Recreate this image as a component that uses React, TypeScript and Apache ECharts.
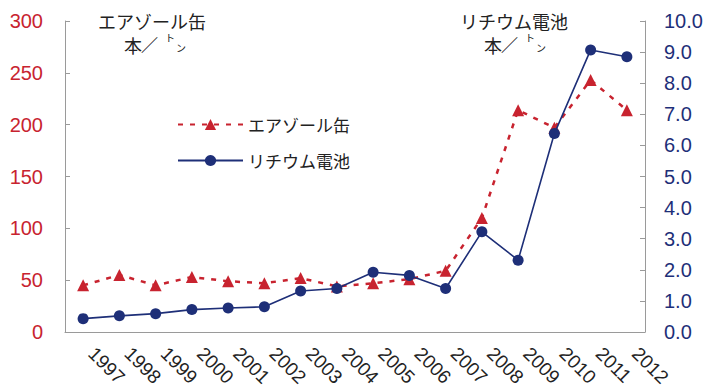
import React, { useEffect, useRef } from "react";
import * as echarts from "echarts";

// 年度
const years = [
  "1997", "1998", "1999", "2000", "2001", "2002", "2003", "2004",
  "2005", "2006", "2007", "2008", "2009", "2010", "2011", "2012",
];
// エアゾール缶（本／トン）— 左軸
const aerosol = [45, 55, 45, 53, 49, 47, 52, 44, 47, 51, 59, 110, 214, 197, 243, 214];
// リチウム電池（本／トン）— 右軸
const lithium = [0.43, 0.52, 0.59, 0.72, 0.77, 0.81, 1.32, 1.4, 1.92, 1.82, 1.4, 3.22, 2.31, 6.38, 9.07, 8.85];

const leftTicks = { min: 0, max: 300, interval: 50 };
const rightTicks = { min: 0, max: 10, interval: 1 };

const RED = "#c8232f";
const NAVY = "#1e2f78";
const AXIS_GRAY = "#9a9a9a";
const LATIN = "'Liberation Sans', Arial, sans-serif";
const CJK = "'Noto Sans CJK JP', sans-serif";

function unitLabel(x: number, y: number) {
  // 「本／トン」: 小さな「トン」を斜線の右に添える
  return [
    { type: "text", left: x, top: y, style: { text: "本", font: `18px ${CJK}`, fill: "#222" } },
    { type: "text", left: x + 17, top: y, style: { text: "／", font: `bold 17px ${CJK}`, fill: "#222" } },
    { type: "text", left: x + 41, top: y - 4, style: { text: "ト", font: `10px ${CJK}`, fill: "#222" } },
    { type: "text", left: x + 52, top: y + 6, style: { text: "ン", font: `10px ${CJK}`, fill: "#222" } },
  ];
}

export default function App() {
  const ref = useRef<HTMLDivElement>(null);

  useEffect(() => {
    if (!ref.current) return;
    const chart = echarts.init(ref.current, undefined, { renderer: "svg" });
    chart.setOption({
      animation: false,
      backgroundColor: "#ffffff",
      grid: {
        left: 65,
        right: 60,
        top: 21,
        bottom: 55,
        containLabel: false,
        outerBoundsMode: "none",
      },
      legend: {
        orient: "vertical",
        left: 172,
        top: 111,
        itemWidth: 65,
        itemHeight: 14,
        itemGap: 19,
        textStyle: { fontFamily: CJK, fontSize: 17, color: "#222" },
        data: ["エアゾール缶", "リチウム電池"],
      },
      xAxis: {
        type: "category",
        data: years,
        boundaryGap: true,
        axisLine: { lineStyle: { color: AXIS_GRAY, width: 1 } },
        axisTick: { inside: true, length: 5, lineStyle: { color: AXIS_GRAY } },
        axisLabel: {
          rotate: -45,
          margin: 10,
          padding: [0, 0, 0, 12],
          interval: 0,
          fontFamily: LATIN,
          fontSize: 19,
          color: "#222",
        },
      },
      yAxis: [
        {
          type: "value",
          position: "left",
          ...leftTicks,
          splitLine: { show: false },
          axisLine: { show: true, lineStyle: { color: AXIS_GRAY, width: 1 } },
          axisTick: { show: true, inside: true, length: 5, lineStyle: { color: AXIS_GRAY } },
          axisLabel: { margin: 22, fontFamily: LATIN, fontSize: 20, color: RED },
        },
        {
          type: "value",
          position: "right",
          ...rightTicks,
          splitLine: { show: false },
          axisLine: { show: true, lineStyle: { color: AXIS_GRAY, width: 1 } },
          axisTick: { show: true, inside: true, length: 5, lineStyle: { color: AXIS_GRAY } },
          axisLabel: {
            margin: 19,
            fontFamily: LATIN,
            fontSize: 20,
            color: NAVY,
            formatter: (v: number) => v.toFixed(1),
          },
        },
      ],
      series: [
        {
          name: "エアゾール缶",
          type: "line",
          yAxisIndex: 0,
          data: aerosol,
          symbol: "triangle",
          symbolSize: 12,
          itemStyle: { color: RED },
          lineStyle: { color: RED, width: 2.5, type: [5, 7] },
          z: 2,
        },
        {
          name: "リチウム電池",
          type: "line",
          yAxisIndex: 1,
          data: lithium,
          symbol: "circle",
          symbolSize: 11,
          itemStyle: { color: NAVY },
          lineStyle: { color: NAVY, width: 1.6 },
          z: 3,
        },
      ],
      graphic: [
        {
          type: "text",
          left: 98,
          top: 12,
          style: { text: "エアゾール缶", font: `18px ${CJK}`, fill: "#222" },
        },
        ...unitLabel(124, 36),
        {
          type: "text",
          left: 460,
          top: 12,
          style: { text: "リチウム電池", font: `18px ${CJK}`, fill: "#222" },
        },
        ...unitLabel(484, 36),
      ],
    });
    return () => chart.dispose();
  }, []);

  return (
    <div
      ref={ref}
      style={{ position: "fixed", left: 0, top: 0, width: 705, height: 387 }}
    />
  );
}
